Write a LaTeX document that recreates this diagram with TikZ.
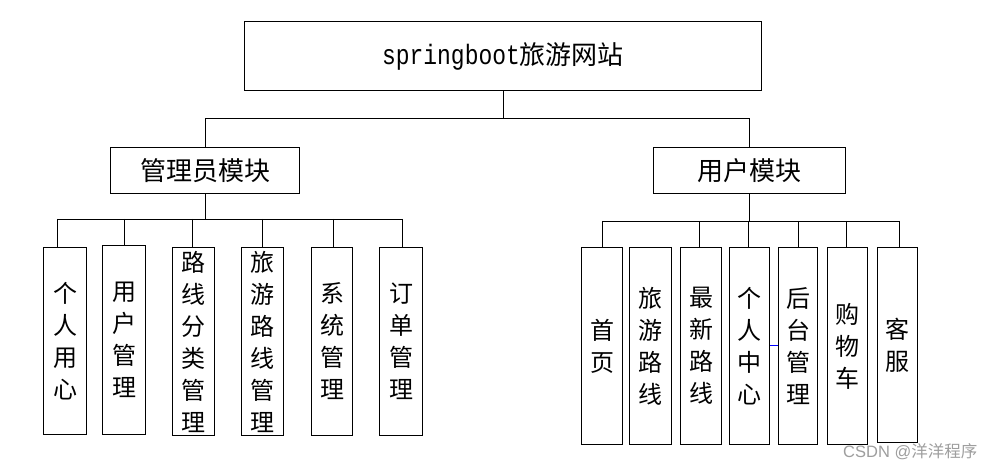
\documentclass[tikz,border=0pt]{standalone}
\usepackage{fontspec}
\setmainfont{Noto Sans CJK SC}
\newfontfamily\latmono[FakeStretch=0.82]{Liberation Mono}
\newfontfamily\latsans{Liberation Sans}
\begin{document}
\begin{tikzpicture}[x=1pt,y=-1pt,
  box/.style={draw,line width=1.9pt,inner sep=0pt,rectangle,anchor=center},
  vbox/.style={box,align=center,font=\fontsize{24pt}{32pt}\selectfont},
  mbox/.style={box,minimum height=46pt,font=\fontsize{26pt}{30pt}\selectfont},
  conn/.style={line width=0.8pt}]
\useasboundingbox[fill=white] (0,0) rectangle (996,470);
% title
\node[box,minimum width=517pt,minimum height=69pt,font=\fontsize{26pt}{30pt}\selectfont] (title) at (503,56) {{\fontsize{28pt}{30pt}\latmono springboot}旅游网站};
% modules
\node[mbox,minimum width=189pt] (admin) at (205,170.5) {管理员模块};
\node[mbox,minimum width=192pt] (user) at (749.5,170.5) {用户模块};
% admin children (y 247-435)
\node[vbox,minimum width=43pt,minimum height=187pt] (a1) at (65,341) {个\\人\\用\\心};
\node[vbox,minimum width=43pt,minimum height=189pt] (a2) at (124,340) {用\\户\\管\\理};
\node[vbox,minimum width=42pt,minimum height=188pt] (a3) at (193.5,341.5) {路\\线\\分\\类\\管\\理};
\node[vbox,minimum width=42pt,minimum height=188pt] (a4) at (262.5,341.5) {旅\\游\\路\\线\\管\\理};
\node[vbox,minimum width=41pt,minimum height=188pt] (a5) at (332,341.5) {系\\统\\管\\理};
\node[vbox,minimum width=43pt,minimum height=188pt] (a6) at (401,341.5) {订\\单\\管\\理};
% user children (y 247-445)
\node[vbox,minimum width=41pt,minimum height=197pt] (u1) at (602,346) {首\\页};
\node[vbox,minimum width=42pt,minimum height=197pt] (u2) at (650.5,346) {旅\\游\\路\\线};
\node[vbox,minimum width=41pt,minimum height=197pt] (u3) at (701,346) {最\\新\\路\\线};
\node[vbox,minimum width=40pt,minimum height=197pt] (u4) at (749.5,346) {个\\人\\中\\心};
\node[vbox,minimum width=39pt,minimum height=197pt] (u5) at (798,346) {后\\台\\管\\理};
\node[vbox,minimum width=40pt,minimum height=197pt] (u6) at (847.5,346) {购\\物\\车};
\node[vbox,minimum width=40pt,minimum height=195pt] (u7) at (897.5,345) {客\\服};
% title to modules
\draw[conn] (title.south) -- (title.south |- 0,118);
\draw[conn] (admin.north) -- (admin.north |- 0,118) -- (user.north |- 0,118) -- (user.north);
% admin bar
\draw[conn] (admin.south) -- (admin.south |- 0,219);
\coordinate (ab1) at (57,219);
\coordinate (ab2) at (402,219);
\draw[conn] (ab1) -- (ab2);
\foreach \n/\x in {a1/57,a2/124,a3/192,a4/262,a5/333,a6/402}
  \draw[conn] (\x,219) -- (\x,0 |- \n.north);
% user bar
\draw[conn] (user.south) -- (user.south |- 0,221);
\coordinate (ub1) at (602,221);
\coordinate (ub2) at (899,221);
\draw[conn] (ub1) -- (ub2);
\foreach \n/\x in {u1/602,u3/699,u4/748,u5/798,u6/846,u7/899}
  \draw[conn] (\x,221) -- (\x,0 |- \n.north);
% small blue line
\coordinate (bl) at (0,345);
\draw[blue,line width=0.7pt] (u4.east |- bl) -- (u5.west |- bl);
% watermark
\node[text=black!38,font=\fontsize{16.5pt}{18pt}\selectfont,anchor=west,inner sep=0pt] (wm) at (843,452) {{\latsans CSDN @}洋洋程序};
\end{tikzpicture}
\end{document}
